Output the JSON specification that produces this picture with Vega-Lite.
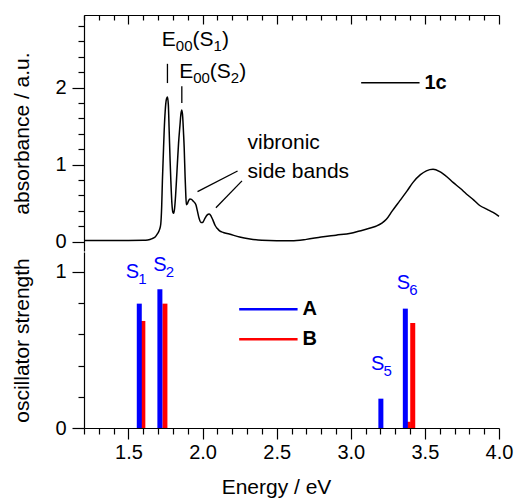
{
  "$schema": "https://vega.github.io/schema/vega-lite/v6.json",
  "padding": {"left": 11, "top": 14, "right": 5, "bottom": 5},
  "spacing": 0,
  "config": {
    "view": {"stroke": null},
    "font": "Liberation Sans",
    "axis": {
      "grid": false,
      "domainColor": "black",
      "tickColor": "black",
      "labelColor": "black",
      "titleColor": "black",
      "domainWidth": 1.2,
      "tickWidth": 1.2,
      "labelFont": "Liberation Sans",
      "titleFont": "Liberation Sans",
      "labelFontSize": 20,
      "titleFontSize": 21,
      "titleFontWeight": "normal"
    },
    "text": {"font": "Liberation Sans"}
  },
  "datasets": {
    "spectrum": [
      {"E": 1.2, "A": 0.015}, {"E": 1.3, "A": 0.015}, {"E": 1.4, "A": 0.015}, {"E": 1.5, "A": 0.015},
      {"E": 1.6, "A": 0.017}, {"E": 1.63, "A": 0.022}, {"E": 1.66, "A": 0.04}, {"E": 1.68, "A": 0.06},
      {"E": 1.695, "A": 0.1}, {"E": 1.71, "A": 0.16}, {"E": 1.718, "A": 0.23}, {"E": 1.724, "A": 0.45},
      {"E": 1.729, "A": 0.79}, {"E": 1.735, "A": 1.12}, {"E": 1.741, "A": 1.44}, {"E": 1.748, "A": 1.7},
      {"E": 1.755, "A": 1.84}, {"E": 1.763, "A": 1.88}, {"E": 1.769, "A": 1.78}, {"E": 1.775, "A": 1.42},
      {"E": 1.781, "A": 1.05}, {"E": 1.786, "A": 0.79}, {"E": 1.793, "A": 0.5}, {"E": 1.8, "A": 0.38},
      {"E": 1.805, "A": 0.37}, {"E": 1.811, "A": 0.43}, {"E": 1.818, "A": 0.6}, {"E": 1.824, "A": 0.8},
      {"E": 1.83, "A": 1.01}, {"E": 1.838, "A": 1.28}, {"E": 1.847, "A": 1.5}, {"E": 1.854, "A": 1.66},
      {"E": 1.86, "A": 1.71}, {"E": 1.866, "A": 1.62}, {"E": 1.871, "A": 1.43}, {"E": 1.876, "A": 1.22},
      {"E": 1.882, "A": 0.85}, {"E": 1.887, "A": 0.6}, {"E": 1.891, "A": 0.48}, {"E": 1.897, "A": 0.49},
      {"E": 1.905, "A": 0.53}, {"E": 1.915, "A": 0.555}, {"E": 1.925, "A": 0.55}, {"E": 1.94, "A": 0.52},
      {"E": 1.955, "A": 0.48}, {"E": 1.965, "A": 0.4}, {"E": 1.977, "A": 0.3}, {"E": 1.989, "A": 0.25},
      {"E": 2.0, "A": 0.25}, {"E": 2.015, "A": 0.3}, {"E": 2.03, "A": 0.345}, {"E": 2.045, "A": 0.36},
      {"E": 2.058, "A": 0.33}, {"E": 2.07, "A": 0.28}, {"E": 2.085, "A": 0.21}, {"E": 2.1, "A": 0.17},
      {"E": 2.115, "A": 0.14}, {"E": 2.14, "A": 0.12}, {"E": 2.18, "A": 0.1}, {"E": 2.25, "A": 0.06},
      {"E": 2.32, "A": 0.035}, {"E": 2.4, "A": 0.018}, {"E": 2.5, "A": 0.012}, {"E": 2.6, "A": 0.012},
      {"E": 2.7, "A": 0.03}, {"E": 2.8, "A": 0.06}, {"E": 2.9, "A": 0.085}, {"E": 3.0, "A": 0.11},
      {"E": 3.06, "A": 0.14}, {"E": 3.12, "A": 0.17}, {"E": 3.17, "A": 0.2}, {"E": 3.21, "A": 0.24},
      {"E": 3.24, "A": 0.29}, {"E": 3.28, "A": 0.4}, {"E": 3.33, "A": 0.53}, {"E": 3.38, "A": 0.66},
      {"E": 3.42, "A": 0.77}, {"E": 3.47, "A": 0.87}, {"E": 3.51, "A": 0.92}, {"E": 3.555, "A": 0.94},
      {"E": 3.6, "A": 0.91}, {"E": 3.65, "A": 0.84}, {"E": 3.69, "A": 0.77}, {"E": 3.74, "A": 0.69},
      {"E": 3.78, "A": 0.62}, {"E": 3.83, "A": 0.54}, {"E": 3.87, "A": 0.47}, {"E": 3.92, "A": 0.42},
      {"E": 3.96, "A": 0.38}, {"E": 4.0, "A": 0.33}
    ],
    "e00Labels": [
      {"sub": "1", "E": 1.725, "A": 2.54},
      {"sub": "2", "E": 1.842, "A": 2.13}
    ],
    "topLabels": [
      {"label": "vibronic", "E": 2.303, "A": 1.2},
      {"label": "side bands", "E": 2.303, "A": 0.83}
    ],
    "topLines": [
      {"E": 1.763, "A": 2.06, "E2": 1.763, "A2": 2.31},
      {"E": 1.86, "A": 1.8, "E2": 1.86, "A2": 2.02},
      {"E": 1.966, "A": 0.65, "E2": 2.236, "A2": 0.918},
      {"E": 2.09, "A": 0.44, "E2": 2.266, "A2": 0.79}
    ],
    "topLegend": [
      {"name": "1c", "E": 3.07, "E2": 3.464, "A": 2.065, "Etext": 3.497}
    ],
    "osc": [
      {"series": "B", "E": 1.597, "f": 0.686},
      {"series": "B", "E": 1.746, "f": 0.797},
      {"series": "B", "E": 3.388, "f": 0.04},
      {"series": "B", "E": 3.418, "f": 0.673},
      {"series": "A", "E": 1.573, "f": 0.797},
      {"series": "A", "E": 1.712, "f": 0.889},
      {"series": "A", "E": 3.203, "f": 0.188},
      {"series": "A", "E": 3.368, "f": 0.765}
    ],
    "stateLabels": [
      {"sub": "1", "E": 1.482, "f": 0.962},
      {"sub": "2", "E": 1.668, "f": 1.008},
      {"sub": "5", "E": 3.137, "f": 0.37},
      {"sub": "6", "E": 3.31, "f": 0.889}
    ],
    "oscLegend": [
      {"series": "A", "E": 2.247, "E2": 2.641, "f": 0.761, "Etext": 2.675},
      {"series": "B", "E": 2.247, "E2": 2.641, "f": 0.569, "Etext": 2.675}
    ]
  },
  "resolve": {"scale": {"color": "independent"}},
  "vconcat": [
    {
      "width": 415,
      "height": 236,
      "layer": [
        {
          "data": {"name": "spectrum"},
          "mark": {"type": "line", "color": "black", "strokeWidth": 1.5, "interpolate": "monotone"},
          "encoding": {
            "x": {
              "field": "E", "type": "quantitative",
              "scale": {"domain": [1.2, 4.0], "nice": false, "zero": false},
              "axis": {
                "orient": "top",
                "title": null,
                "labels": false,
                "tickCount": 100,
                "values": [1.2,1.3,1.4,1.5,1.6,1.7,1.8,1.9,2.0,2.1,2.2,2.3,2.4,2.5,2.6,2.7,2.8,2.9,3.0,3.1,3.2,3.3,3.4,3.5,3.6,3.7,3.8,3.9,4.0],
                "tickSize": {"condition": {"test": "abs(datum.value*2 - round(datum.value*2)) < 0.001", "value": -9}, "value": -5}
              }
            },
            "y": {
              "field": "A", "type": "quantitative",
              "scale": {"domain": [-0.121, 2.944], "nice": false, "zero": false},
              "axis": {
                "title": "absorbance / a.u.",
                "tickCount": 100,
                "values": [0,0.2,0.4,0.6,0.8,1,1.2,1.4,1.6,1.8,2,2.2,2.4,2.6,2.8],
                "labelExpr": "abs(datum.value - round(datum.value)) < 0.001 ? format(datum.value, 'd') : ''",
                "labelOverlap": false,
                "labelFlush": false,
                "labelBound": false,
                "tickSize": {"condition": {"test": "abs(datum.value - round(datum.value)) < 0.001", "value": 12}, "value": 6},
                "labelPadding": 6,
                "titlePadding": 22
              }
            }
          }
        },
        {
          "mark": {"type": "rule", "color": "black", "strokeWidth": 1.2},
          "encoding": {"x": {"datum": 4.0}}
        },
        {
          "data": {"name": "topLines"},
          "mark": {"type": "rule", "color": "black", "strokeWidth": 1.3},
          "encoding": {
            "x": {"field": "E", "type": "quantitative"},
            "y": {"field": "A", "type": "quantitative"},
            "x2": {"field": "E2"},
            "y2": {"field": "A2"}
          }
        },
        {
          "data": {"name": "e00Labels"},
          "mark": {"type": "text", "align": "left", "baseline": "alphabetic", "fontSize": 21, "color": "black", "text": "E"},
          "encoding": {
            "x": {"field": "E", "type": "quantitative"},
            "y": {"field": "A", "type": "quantitative"}
          }
        },
        {
          "data": {"name": "e00Labels"},
          "mark": {"type": "text", "align": "left", "baseline": "alphabetic", "fontSize": 15, "color": "black", "text": "00", "dx": 14, "dy": 5},
          "encoding": {
            "x": {"field": "E", "type": "quantitative"},
            "y": {"field": "A", "type": "quantitative"}
          }
        },
        {
          "data": {"name": "e00Labels"},
          "mark": {"type": "text", "align": "left", "baseline": "alphabetic", "fontSize": 21, "color": "black", "text": "(S", "dx": 30.7},
          "encoding": {
            "x": {"field": "E", "type": "quantitative"},
            "y": {"field": "A", "type": "quantitative"}
          }
        },
        {
          "data": {"name": "e00Labels"},
          "mark": {"type": "text", "align": "left", "baseline": "alphabetic", "fontSize": 15, "color": "black", "dx": 51.7, "dy": 5},
          "encoding": {
            "x": {"field": "E", "type": "quantitative"},
            "y": {"field": "A", "type": "quantitative"},
            "text": {"field": "sub"}
          }
        },
        {
          "data": {"name": "e00Labels"},
          "mark": {"type": "text", "align": "left", "baseline": "alphabetic", "fontSize": 21, "color": "black", "text": ")", "dx": 60.2},
          "encoding": {
            "x": {"field": "E", "type": "quantitative"},
            "y": {"field": "A", "type": "quantitative"}
          }
        },
        {
          "data": {"name": "topLabels"},
          "mark": {"type": "text", "align": "left", "baseline": "alphabetic", "fontSize": 21, "color": "black"},
          "encoding": {
            "x": {"field": "E", "type": "quantitative"},
            "y": {"field": "A", "type": "quantitative"},
            "text": {"field": "label"}
          }
        },
        {
          "data": {"name": "topLegend"},
          "mark": {"type": "rule", "color": "black", "strokeWidth": 1.5},
          "encoding": {
            "x": {"field": "E", "type": "quantitative"},
            "x2": {"field": "E2"},
            "y": {"field": "A", "type": "quantitative"}
          }
        },
        {
          "data": {"name": "topLegend"},
          "mark": {"type": "text", "align": "left", "baseline": "middle", "fontSize": 20, "fontWeight": "bold", "color": "black"},
          "encoding": {
            "x": {"field": "Etext", "type": "quantitative"},
            "y": {"field": "A", "type": "quantitative"},
            "text": {"field": "name"}
          }
        }
      ]
    },
    {
      "width": 415,
      "height": 176,
      "layer": [
        {
          "data": {"name": "osc"},
          "mark": {"type": "rule", "strokeWidth": 5, "strokeCap": "butt"},
          "encoding": {
            "x": {
              "field": "E", "type": "quantitative",
              "scale": {"domain": [1.2, 4.0], "nice": false, "zero": false},
              "axis": {
                "title": "Energy / eV",
                "titleX": 192,
                "titleAlign": "center",
                "tickCount": 100,
                "values": [1.2,1.3,1.4,1.5,1.6,1.7,1.8,1.9,2.0,2.1,2.2,2.3,2.4,2.5,2.6,2.7,2.8,2.9,3.0,3.1,3.2,3.3,3.4,3.5,3.6,3.7,3.8,3.9,4.0],
                "labelExpr": "abs(datum.value*2 - round(datum.value*2)) < 0.001 ? format(datum.value, '.1f') : ''",
                "labelOverlap": false,
                "labelFlush": false,
                "labelBound": false,
                "tickSize": {"condition": {"test": "abs(datum.value*2 - round(datum.value*2)) < 0.001", "value": 11}, "value": 6},
                "labelPadding": 3,
                "titlePadding": 14
              }
            },
            "y": {
              "field": "f", "type": "quantitative",
              "scale": {"domain": [0, 1.128], "nice": false},
              "axis": {
                "title": "oscillator strength",
                "tickCount": 100,
                "values": [0,0.2,0.4,0.6,0.8,1],
                "labelExpr": "abs(datum.value - round(datum.value)) < 0.001 ? format(datum.value, 'd') : ''",
                "labelOverlap": false,
                "labelFlush": false,
                "labelBound": false,
                "tickSize": {"condition": {"test": "abs(datum.value - round(datum.value)) < 0.001", "value": 12}, "value": 6},
                "labelPadding": 6,
                "titlePadding": 22
              }
            },
            "y2": {"datum": 0},
            "color": {
              "field": "series", "type": "nominal",
              "scale": {"domain": ["A", "B"], "range": ["#0000ff", "#ff0000"]},
              "legend": null
            }
          }
        },
        {
          "mark": {"type": "rule", "color": "black", "strokeWidth": 1.2},
          "encoding": {"x": {"datum": 4.0}}
        },
        {
          "data": {"name": "stateLabels"},
          "mark": {"type": "text", "align": "left", "baseline": "alphabetic", "fontSize": 20, "color": "#0000ff", "text": "S"},
          "encoding": {
            "x": {"field": "E", "type": "quantitative"},
            "y": {"field": "f", "type": "quantitative"}
          }
        },
        {
          "data": {"name": "stateLabels"},
          "mark": {"type": "text", "align": "left", "baseline": "alphabetic", "fontSize": 15, "color": "#0000ff", "dx": 12.5, "dy": 6},
          "encoding": {
            "x": {"field": "E", "type": "quantitative"},
            "y": {"field": "f", "type": "quantitative"},
            "text": {"field": "sub"}
          }
        },
        {
          "data": {"name": "oscLegend"},
          "mark": {"type": "rule", "strokeWidth": 2.5},
          "encoding": {
            "x": {"field": "E", "type": "quantitative"},
            "x2": {"field": "E2"},
            "y": {"field": "f", "type": "quantitative"},
            "color": {"field": "series", "type": "nominal", "legend": null}
          }
        },
        {
          "data": {"name": "oscLegend"},
          "mark": {"type": "text", "align": "left", "baseline": "middle", "fontSize": 20, "fontWeight": "bold", "color": "black"},
          "encoding": {
            "x": {"field": "Etext", "type": "quantitative"},
            "y": {"field": "f", "type": "quantitative"},
            "text": {"field": "series"}
          }
        }
      ]
    }
  ]
}
